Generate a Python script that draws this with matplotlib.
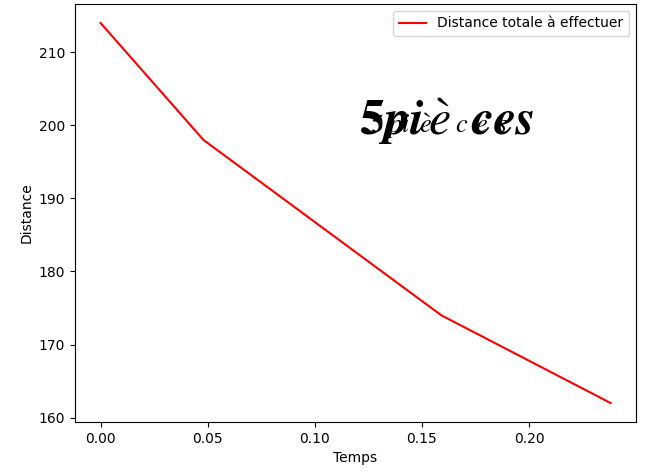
import matplotlib
matplotlib.use("Agg")
import matplotlib.pyplot as plt

temps = [0.0, 0.048, 0.159, 0.238]
distance = [214, 198, 174, 162]
label_serie = "Distance totale à effectuer"

fig = plt.figure(figsize=(6.57, 4.74), dpi=100)
ax = fig.add_axes([0.1142, 0.1097, 0.8539, 0.8819])
ax.plot(temps, distance, color="red", label=label_serie)
ax.set_xlabel("Temps")
ax.set_ylabel("Distance")
ax.legend(loc="upper right")

# titre superposé en deux corps
ax.text(0.1205, 198.66, r"$\mathbf{5}\mathbfit{pi}\,\grave{e}\;\;\mathbfit{ces}$",
        fontsize=36, va="baseline", ha="left", math_fontfamily="stix")
ax.text(0.1257, 198.93, r"$5\;pi\;\;\grave{e}\quad\;c\;\,e\;\,s$",
        fontsize=19, va="baseline", ha="left", math_fontfamily="stix")

fig.savefig("out.png", dpi=100)
